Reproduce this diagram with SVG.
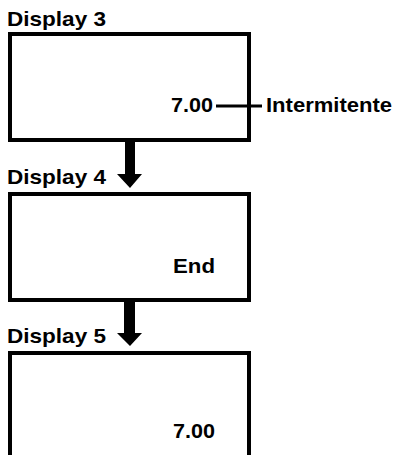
<svg xmlns="http://www.w3.org/2000/svg" width="397" height="455" viewBox="0 0 397 455">
<style>
.box{fill:#fff;stroke:#000;stroke-width:4}
.t{font-family:"Liberation Sans",Arial,sans-serif;font-weight:bold;font-size:21px;fill:#000}
.ln{stroke:#000;stroke-width:3;fill:none}
.arr{fill:#000}
</style>
<rect width="397" height="455" fill="#fff"/>
<g id="display3">
<text class="t" x="7" y="26" textLength="99" lengthAdjust="spacingAndGlyphs">Display 3</text>
<rect class="box" x="10" y="34" width="239" height="106"/>
<text class="t" x="171" y="112" textLength="42" lengthAdjust="spacingAndGlyphs">7.00</text>
</g>
<g id="intermitente">
<text class="t" x="266" y="112" textLength="126" lengthAdjust="spacingAndGlyphs">Intermitente</text>
</g>
<g id="display4">
<text class="t" x="7" y="184" textLength="99" lengthAdjust="spacingAndGlyphs">Display 4</text>
<rect class="box" x="10" y="194" width="239" height="106"/>
<text class="t" x="173" y="273" textLength="42" lengthAdjust="spacingAndGlyphs">End</text>
</g>
<g id="display5">
<text class="t" x="7" y="343" textLength="99" lengthAdjust="spacingAndGlyphs">Display 5</text>
<rect class="box" x="10" y="353" width="239" height="120"/>
<text class="t" x="173" y="438" textLength="42" lengthAdjust="spacingAndGlyphs">7.00</text>
</g>
<g id="connectors">
<line class="ln" x1="216" y1="106" x2="262" y2="106"/>
<polygon class="arr" points="125,142 135,142 135,174 142,174 130,188 117,174 125,174"/>
<polygon class="arr" points="124,302 135,302 135,333 142,333 130,346 117,333 124,333"/>
</g>
</svg>
